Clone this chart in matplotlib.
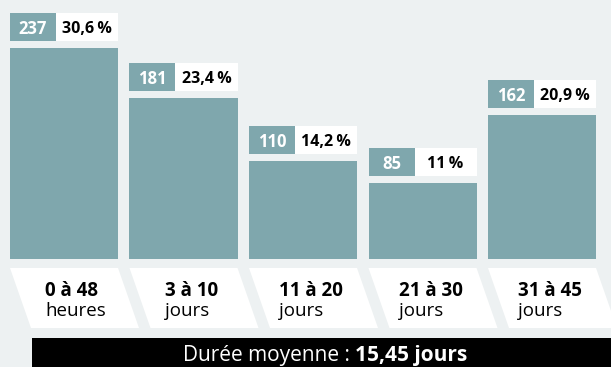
import matplotlib
matplotlib.use("Agg")
import matplotlib.pyplot as plt
from matplotlib.patches import Rectangle, Polygon

plt.rcParams['font.family'] = ['Open Sans', 'DejaVu Sans']

# Data
counts = [237, 181, 110, 85, 162]
shares = ["30,6\u2009%", "23,4\u2009%", "14,2\u2009%", "11\u2009%", "20,9\u2009%"]
range_labels = ["0 à 48", "3 à 10", "11 à 20", "21 à 30", "31 à 45"]
unit_labels = ["heures", "jours", "jours", "jours", "jours"]
summary_label = "Durée moyenne : "
summary_value = "15,45 jours"

BG = "#edf1f2"
TEAL = "#7fa7ad"

W, H, DPI = 611, 367, 100
fig = plt.figure(figsize=(W / DPI, H / DPI), dpi=DPI, facecolor=BG)
ax = fig.add_axes([0, 0, 1, 1])
ax.set_facecolor(BG)
ax.axis("off")

# Layout: pixel geometry -> data units
step_px = 119.5          # distance between bar centres
first_center_px = 64.0
baseline_px = 259.0      # pixel row of the zero line (from top)
unit_px = 0.89           # pixels per count

def dx(px):
    return (px - first_center_px) / step_px

def dy(py):
    return (baseline_px - py) / unit_px

ax.set_xlim(dx(0), dx(W))
ax.set_ylim(dy(H), dy(0))

bar_w = 108 / step_px
xs = list(range(len(counts)))
ax.bar(xs, counts, width=bar_w, color=TEAL, linewidth=0, zorder=2)

gap_u = 7 / unit_px
box_h = 28 / unit_px
num_w = 46 / step_px

for x, c, s in zip(xs, counts, shares):
    left = x - bar_w / 2
    y0 = c + gap_u
    ax.add_patch(Rectangle((left, y0), num_w, box_h, facecolor=TEAL, linewidth=0, zorder=2))
    ax.add_patch(Rectangle((left + num_w, y0), bar_w - num_w, box_h, facecolor="white",
                           linewidth=0, zorder=2))
    ax.text(left + num_w / 2, y0 + box_h / 2, str(c), color="white", fontsize=12,
            fontweight="bold", ha="center", va="center_baseline", zorder=3)
    ax.text(left + num_w + (bar_w - num_w) / 2, y0 + box_h / 2, s, color="black",
            fontsize=11.5, fontweight="bold", ha="center", va="center_baseline", zorder=3)

# Slanted category tiles
top_py, bot_py = 268, 328
slant = 21 / step_px
first_lines = []
for x in xs:
    left = x - bar_w / 2
    pts = [(left, dy(top_py)), (left + bar_w, dy(top_py)),
           (left + bar_w + slant, dy(bot_py)), (left + slant, dy(bot_py))]
    ax.add_patch(Polygon(pts, closed=True, facecolor="white", linewidth=0, zorder=2))

for x, r in zip(xs, range_labels):
    t = ax.text(x + 8 / step_px, dy(289), r, fontsize=13.5, fontweight="bold",
                ha="center", va="center_baseline", color="black", zorder=3)
    first_lines.append(t)

# Summary band
ax.add_patch(Rectangle((dx(32), dy(H)), dx(W) - dx(32), dy(338) - dy(H),
                       facecolor="black", linewidth=0, zorder=2))
t1 = ax.text(0, dy(353), summary_label, fontsize=15, color="white",
             ha="left", va="center_baseline", zorder=3)
t2 = ax.text(0, dy(353), summary_value, fontsize=15, color="white",
             fontweight="bold", ha="left", va="center_baseline", zorder=3)

fig.canvas.draw()
renderer = fig.canvas.get_renderer()
inv = ax.transData.inverted()

for t, u in zip(first_lines, unit_labels):
    bb = t.get_window_extent(renderer)
    x_left = inv.transform((bb.x0, 0))[0]
    ax.text(x_left, dy(309), u, fontsize=13.5, ha="left", va="center_baseline",
            color="black", zorder=3)

w1 = t1.get_window_extent(renderer).width
w2 = t2.get_window_extent(renderer).width
start_px = 325 - (w1 + w2) / 2
t1.set_x(dx(start_px))
t2.set_x(dx(start_px + w1))

fig.savefig("out.png", dpi=DPI, facecolor=BG)
